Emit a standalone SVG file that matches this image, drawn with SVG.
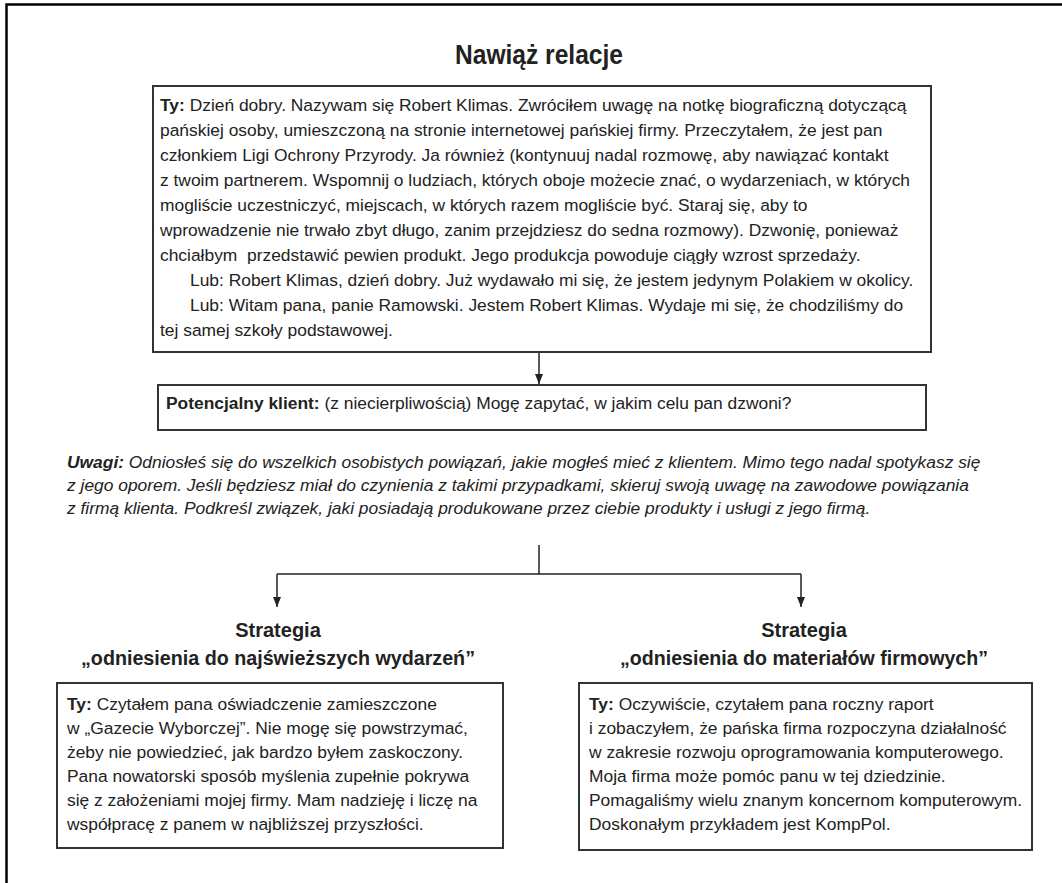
<svg xmlns="http://www.w3.org/2000/svg" width="1062" height="883" viewBox="0 0 1062 883">
<defs>
<marker id="arr" markerWidth="10" markerHeight="8" refX="10" refY="4" orient="auto" markerUnits="userSpaceOnUse" viewBox="0 0 10 8">
<path d="M0,0 L10,4 L0,8 Z" fill="#222"/>
</marker>
<style>
.t{font-family:"Liberation Sans",Arial,sans-serif;font-size:17.4px;fill:#222}
.i{font-style:italic}
.b{font-weight:bold}
.h{font-family:"Liberation Sans",Arial,sans-serif;font-weight:bold;font-size:20px;fill:#222;text-anchor:middle}
.box{fill:#fff;stroke:#333;stroke-width:2}
.ln{fill:none;stroke:#222;stroke-width:1.5}
</style>
</defs>
<rect width="1062" height="883" fill="#fff"/>
<path d="M6.5,883 V4.5 H1062" fill="none" stroke="#000" stroke-width="2.5"/>
<text x="539" y="64" text-anchor="middle" font-family="'Liberation Sans',Arial,sans-serif" font-weight="bold" font-size="27" fill="#222" textLength="168" lengthAdjust="spacingAndGlyphs">Nawiąż relacje</text>

<g id="connectors">
<line class="ln" x1="539" y1="352" x2="539" y2="384" marker-end="url(#arr)"/>
<line class="ln" x1="539" y1="545" x2="539" y2="574"/>
<line class="ln" x1="277" y1="574" x2="801" y2="574"/>
<line class="ln" x1="277" y1="574" x2="277" y2="607" marker-end="url(#arr)"/>
<line class="ln" x1="801" y1="574" x2="801" y2="607" marker-end="url(#arr)"/>
</g>

<g id="node-ty">
<rect class="box" x="153" y="86" width="778" height="266"/>
<text class="t" xml:space="preserve">
<tspan x="160" y="111"><tspan class="b">Ty:</tspan> Dzień dobry. Nazywam się Robert Klimas. Zwróciłem uwagę na notkę biograficzną dotyczącą</tspan>
<tspan x="160" y="136">pańskiej osoby, umieszczoną na stronie internetowej pańskiej firmy. Przeczytałem, że jest pan</tspan>
<tspan x="160" y="161">członkiem Ligi Ochrony Przyrody. Ja również (kontynuuj nadal rozmowę, aby nawiązać kontakt</tspan>
<tspan x="160" y="186">z twoim partnerem. Wspomnij o ludziach, których oboje możecie znać, o wydarzeniach, w których</tspan>
<tspan x="160" y="211">mogliście uczestniczyć, miejscach, w których razem mogliście być. Staraj się, aby to</tspan>
<tspan x="160" y="236">wprowadzenie nie trwało zbyt długo, zanim przejdziesz do sedna rozmowy). Dzwonię, ponieważ</tspan>
<tspan x="160" y="261">chciałbym  przedstawić pewien produkt. Jego produkcja powoduje ciągły wzrost sprzedaży.</tspan>
<tspan x="190" y="286">Lub: Robert Klimas, dzień dobry. Już wydawało mi się, że jestem jedynym Polakiem w okolicy.</tspan>
<tspan x="190" y="311">Lub: Witam pana, panie Ramowski. Jestem Robert Klimas. Wydaje mi się, że chodziliśmy do</tspan>
<tspan x="160" y="336">tej samej szkoły podstawowej.</tspan>
</text>
</g>

<g id="node-klient">
<rect class="box" x="158" y="385" width="768" height="45"/>
<text class="t" x="166" y="409"><tspan class="b">Potencjalny klient:</tspan> (z niecierpliwością) Mogę zapytać, w jakim celu pan dzwoni?</text>
</g>

<g id="node-uwagi">
<text class="t i">
<tspan x="67" y="468"><tspan class="b">Uwagi:</tspan> Odniosłeś się do wszelkich osobistych powiązań, jakie mogłeś mieć z klientem. Mimo tego nadal spotykasz się</tspan>
<tspan x="67" y="491">z jego oporem. Jeśli będziesz miał do czynienia z takimi przypadkami, skieruj swoją uwagę na zawodowe powiązania</tspan>
<tspan x="67" y="514">z firmą klienta. Podkreśl związek, jaki posiadają produkowane przez ciebie produkty i usługi z jego firmą.</tspan>
</text>
</g>

<g id="node-strategia-1">
<text class="h" x="278" y="637">Strategia</text>
<text class="h" x="278" y="665" textLength="394" lengthAdjust="spacingAndGlyphs">„odniesienia do najświeższych wydarzeń”</text>
<rect class="box" x="57" y="683" width="446" height="165"/>
<text class="t">
<tspan x="67" y="710"><tspan class="b">Ty:</tspan> Czytałem pana oświadczenie zamieszczone</tspan>
<tspan x="67" y="734">w „Gazecie Wyborczej”. Nie mogę się powstrzymać,</tspan>
<tspan x="67" y="758">żeby nie powiedzieć, jak bardzo byłem zaskoczony.</tspan>
<tspan x="67" y="782">Pana nowatorski sposób myślenia zupełnie pokrywa</tspan>
<tspan x="67" y="806">się z założeniami mojej firmy. Mam nadzieję i liczę na</tspan>
<tspan x="67" y="830">współpracę z panem w najbliższej przyszłości.</tspan>
</text>
</g>

<g id="node-strategia-2">
<text class="h" x="804" y="637">Strategia</text>
<text class="h" x="804" y="665" textLength="368" lengthAdjust="spacingAndGlyphs">„odniesienia do materiałów firmowych”</text>
<rect class="box" x="579" y="683" width="453" height="167"/>
<text class="t">
<tspan x="589" y="710"><tspan class="b">Ty:</tspan> Oczywiście, czytałem pana roczny raport</tspan>
<tspan x="589" y="734">i zobaczyłem, że pańska firma rozpoczyna działalność</tspan>
<tspan x="589" y="758">w zakresie rozwoju oprogramowania komputerowego.</tspan>
<tspan x="589" y="782">Moja firma może pomóc panu w tej dziedzinie.</tspan>
<tspan x="589" y="806">Pomagaliśmy wielu znanym koncernom komputerowym.</tspan>
<tspan x="589" y="830">Doskonałym przykładem jest KompPol.</tspan>
</text>
</g>
</svg>
